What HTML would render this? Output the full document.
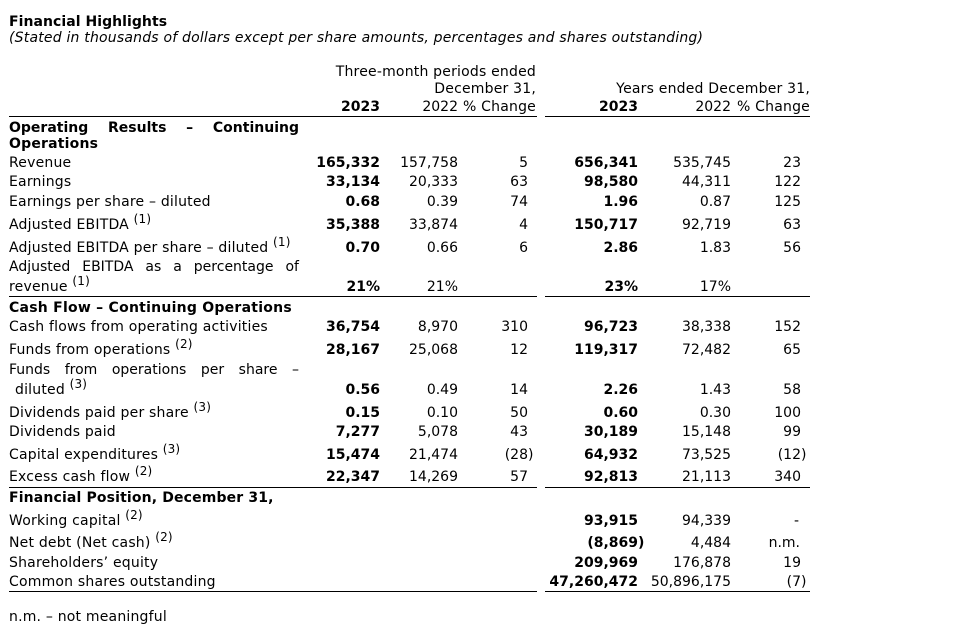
<!DOCTYPE html>
<html><head><meta charset="utf-8">
<style>
html,body{margin:0;padding:0;background:#fff;}
#c{position:relative;width:961px;height:639px;overflow:hidden;font-family:Verdana,"DejaVu Sans",sans-serif;font-size:14px;color:#000;}
.t,.r{position:absolute;line-height:20px;white-space:nowrap;}
.t{letter-spacing:0.2px;}
.h{letter-spacing:0.2px;}
.r{text-align:right;}
.b{font-weight:bold;}
.i{font-style:italic;}
.sup{font-size:12px;position:relative;top:-6px;}
.rp{position:absolute;left:100%;top:0;}
.j{position:absolute;line-height:20px;width:290px;display:flex;justify-content:space-between;white-space:nowrap;}
.rule{position:absolute;height:1px;background:#000;}
</style></head><body><div id="c">

<div class="t b" style="left:9px;top:12px;letter-spacing:0.05px">Financial Highlights</div>
<div class="t i" style="left:9px;top:28px">(Stated in thousands of dollars except per share amounts, percentages and shares outstanding)</div>

<div class="r h" style="right:425px;top:62px">Three-month periods ended</div>
<div class="r h" style="right:425px;top:79px">December 31,</div>
<div class="r h" style="right:151px;top:79px">Years ended December 31,</div>
<div class="r b" style="right:581px;top:97px">2023</div>
<div class="r" style="right:503px;top:97px">2022</div>
<div class="r h" style="right:425px;top:97px">% Change</div>
<div class="r b" style="right:323px;top:97px">2023</div>
<div class="r" style="right:230px;top:97px">2022</div>
<div class="r h" style="right:151px;top:97px">% Change</div>
<div class="rule" style="left:9px;width:528px;top:116px"></div>
<div class="rule" style="left:545px;width:265px;top:116px"></div>

<div class="j b" style="left:9px;top:118px"><span>Operating</span><span>Results</span><span>–</span><span>Continuing</span></div>
<div class="t b" style="left:9px;top:134px">Operations</div>

<!-- Revenue -->
<div class="t" style="left:9px;top:153px">Revenue</div>
<div class="r b" style="right:581px;top:153px">165,332</div>
<div class="r" style="right:503px;top:153px">157,758</div>
<div class="r" style="right:433px;top:153px">5</div>
<div class="r b" style="right:323px;top:153px">656,341</div>
<div class="r" style="right:230px;top:153px">535,745</div>
<div class="r" style="right:160px;top:153px">23</div>

<!-- Earnings -->
<div class="t" style="left:9px;top:172px">Earnings</div>
<div class="r b" style="right:581px;top:172px">33,134</div>
<div class="r" style="right:503px;top:172px">20,333</div>
<div class="r" style="right:433px;top:172px">63</div>
<div class="r b" style="right:323px;top:172px">98,580</div>
<div class="r" style="right:230px;top:172px">44,311</div>
<div class="r" style="right:160px;top:172px">122</div>

<!-- EPS -->
<div class="t" style="left:9px;top:192px">Earnings per share – diluted</div>
<div class="r b" style="right:581px;top:192px">0.68</div>
<div class="r" style="right:503px;top:192px">0.39</div>
<div class="r" style="right:433px;top:192px">74</div>
<div class="r b" style="right:323px;top:192px">1.96</div>
<div class="r" style="right:230px;top:192px">0.87</div>
<div class="r" style="right:160px;top:192px">125</div>

<!-- Adjusted EBITDA -->
<div class="t" style="left:9px;top:215px">Adjusted EBITDA <span class="sup">(1)</span></div>
<div class="r b" style="right:581px;top:215px">35,388</div>
<div class="r" style="right:503px;top:215px">33,874</div>
<div class="r" style="right:433px;top:215px">4</div>
<div class="r b" style="right:323px;top:215px">150,717</div>
<div class="r" style="right:230px;top:215px">92,719</div>
<div class="r" style="right:160px;top:215px">63</div>

<!-- Adj EBITDA per share -->
<div class="t" style="left:9px;top:238px">Adjusted EBITDA per share – diluted <span class="sup">(1)</span></div>
<div class="r b" style="right:581px;top:238px">0.70</div>
<div class="r" style="right:503px;top:238px">0.66</div>
<div class="r" style="right:433px;top:238px">6</div>
<div class="r b" style="right:323px;top:238px">2.86</div>
<div class="r" style="right:230px;top:238px">1.83</div>
<div class="r" style="right:160px;top:238px">56</div>

<!-- Adj EBITDA pct -->
<div class="j" style="left:9px;top:257px"><span>Adjusted</span><span>EBITDA</span><span>as</span><span>a</span><span>percentage</span><span>of</span></div>
<div class="t" style="left:9px;top:277px">revenue <span class="sup">(1)</span></div>
<div class="r b" style="right:581px;top:277px">21%</div>
<div class="r" style="right:503px;top:277px">21%</div>
<div class="r b" style="right:323px;top:277px">23%</div>
<div class="r" style="right:230px;top:277px">17%</div>
<div class="rule" style="left:9px;width:528px;top:296px"></div>
<div class="rule" style="left:545px;width:265px;top:296px"></div>

<div class="t b" style="left:9px;top:298px;letter-spacing:0.25px">Cash Flow – Continuing Operations</div>

<div class="t" style="left:9px;top:317px">Cash flows from operating activities</div>
<div class="r b" style="right:581px;top:317px">36,754</div>
<div class="r" style="right:503px;top:317px">8,970</div>
<div class="r" style="right:433px;top:317px">310</div>
<div class="r b" style="right:323px;top:317px">96,723</div>
<div class="r" style="right:230px;top:317px">38,338</div>
<div class="r" style="right:160px;top:317px">152</div>

<div class="t" style="left:9px;top:340px">Funds from operations <span class="sup">(2)</span></div>
<div class="r b" style="right:581px;top:340px">28,167</div>
<div class="r" style="right:503px;top:340px">25,068</div>
<div class="r" style="right:433px;top:340px">12</div>
<div class="r b" style="right:323px;top:340px">119,317</div>
<div class="r" style="right:230px;top:340px">72,482</div>
<div class="r" style="right:160px;top:340px">65</div>

<div class="j" style="left:9px;top:360px"><span>Funds</span><span>from</span><span>operations</span><span>per</span><span>share</span><span>–</span></div>
<div class="t" style="left:15px;top:380px">diluted <span class="sup">(3)</span></div>
<div class="r b" style="right:581px;top:380px">0.56</div>
<div class="r" style="right:503px;top:380px">0.49</div>
<div class="r" style="right:433px;top:380px">14</div>
<div class="r b" style="right:323px;top:380px">2.26</div>
<div class="r" style="right:230px;top:380px">1.43</div>
<div class="r" style="right:160px;top:380px">58</div>

<div class="t" style="left:9px;top:403px">Dividends paid per share <span class="sup">(3)</span></div>
<div class="r b" style="right:581px;top:403px">0.15</div>
<div class="r" style="right:503px;top:403px">0.10</div>
<div class="r" style="right:433px;top:403px">50</div>
<div class="r b" style="right:323px;top:403px">0.60</div>
<div class="r" style="right:230px;top:403px">0.30</div>
<div class="r" style="right:160px;top:403px">100</div>

<div class="t" style="left:9px;top:422px">Dividends paid</div>
<div class="r b" style="right:581px;top:422px">7,277</div>
<div class="r" style="right:503px;top:422px">5,078</div>
<div class="r" style="right:433px;top:422px">43</div>
<div class="r b" style="right:323px;top:422px">30,189</div>
<div class="r" style="right:230px;top:422px">15,148</div>
<div class="r" style="right:160px;top:422px">99</div>

<div class="t" style="left:9px;top:445px">Capital expenditures <span class="sup">(3)</span></div>
<div class="r b" style="right:581px;top:445px">15,474</div>
<div class="r" style="right:503px;top:445px">21,474</div>
<div class="r" style="right:433px;top:445px">(28<span class="rp">)</span></div>
<div class="r b" style="right:323px;top:445px">64,932</div>
<div class="r" style="right:230px;top:445px">73,525</div>
<div class="r" style="right:160px;top:445px">(12<span class="rp">)</span></div>

<div class="t" style="left:9px;top:467px">Excess cash flow <span class="sup">(2)</span></div>
<div class="r b" style="right:581px;top:467px">22,347</div>
<div class="r" style="right:503px;top:467px">14,269</div>
<div class="r" style="right:433px;top:467px">57</div>
<div class="r b" style="right:323px;top:467px">92,813</div>
<div class="r" style="right:230px;top:467px">21,113</div>
<div class="r" style="right:160px;top:467px">340</div>
<div class="rule" style="left:9px;width:528px;top:487px"></div>
<div class="rule" style="left:545px;width:265px;top:487px"></div>

<div class="t b" style="left:9px;top:488px;letter-spacing:0.15px">Financial Position, December 31,</div>

<div class="t" style="left:9px;top:511px">Working capital <span class="sup">(2)</span></div>
<div class="r b" style="right:323px;top:511px">93,915</div>
<div class="r" style="right:230px;top:511px">94,339</div>
<div class="r" style="right:162px;top:511px">-</div>

<div class="t" style="left:9px;top:533px">Net debt (Net cash) <span class="sup">(2)</span></div>
<div class="r b" style="right:323px;top:533px">(8,869<span class="rp">)</span></div>
<div class="r" style="right:230px;top:533px">4,484</div>
<div class="r" style="right:161px;top:533px">n.m.</div>

<div class="t" style="left:9px;top:553px">Shareholders’ equity</div>
<div class="r b" style="right:323px;top:553px">209,969</div>
<div class="r" style="right:230px;top:553px">176,878</div>
<div class="r" style="right:160px;top:553px">19</div>

<div class="t" style="left:9px;top:572px">Common shares outstanding</div>
<div class="r b" style="right:323px;top:572px">47,260,472</div>
<div class="r" style="right:230px;top:572px">50,896,175</div>
<div class="r" style="right:160px;top:572px">(7<span class="rp">)</span></div>
<div class="rule" style="left:9px;width:528px;top:591px"></div>
<div class="rule" style="left:545px;width:265px;top:591px"></div>

<div class="t" style="left:9px;top:607px">n.m. – not meaningful</div>

</div></body></html>
